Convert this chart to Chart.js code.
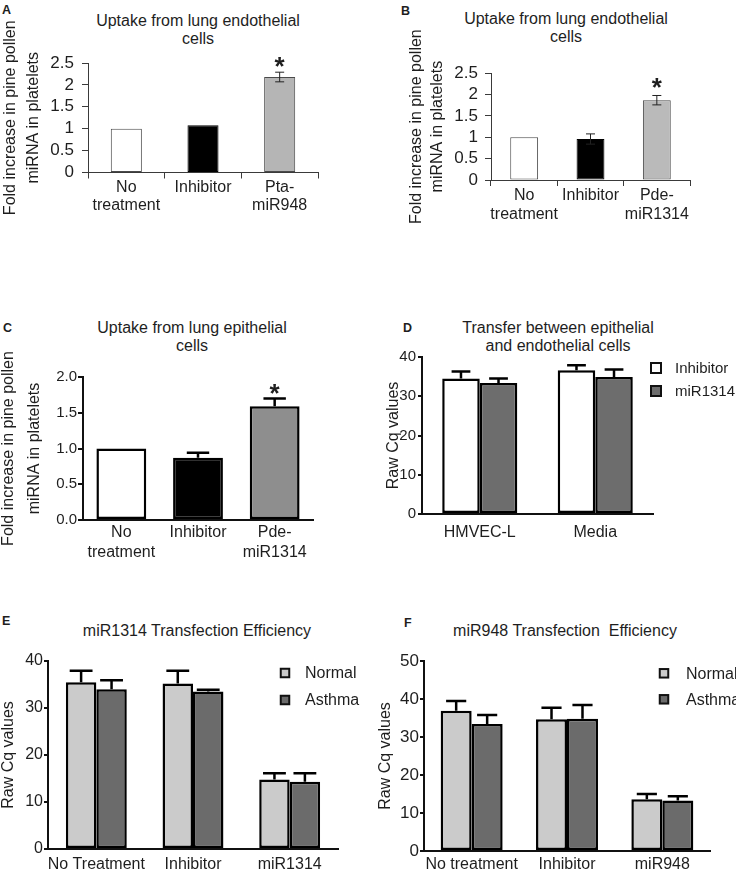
<!DOCTYPE html>
<html>
<head>
<meta charset="utf-8">
<script src="https://cdn.jsdelivr.net/npm/chart.js@4.4.1/dist/chart.umd.min.js"></script>
<style>
  html, body { margin: 0; padding: 0; background: #fff; }
  body { width: 736px; height: 873px; position: relative; overflow: hidden;
         font-family: "Liberation Sans", Arial, sans-serif; color: #1e1e1e; }
  canvas { position: absolute; }
  .letter { position: absolute; font-weight: bold; font-size: 12.5px; line-height: 14px; }
  .title { position: absolute; width: 300px; text-align: center; font-size: 16px; line-height: 18px; white-space: pre; }
</style>
</head>
<body>
<div class="letter" style="left:2px;top:3px">A</div>
<div class="letter" style="left:401px;top:4px">B</div>
<div class="letter" style="left:3px;top:321px">C</div>
<div class="letter" style="left:403px;top:321px">D</div>
<div class="letter" style="left:2px;top:614px">E</div>
<div class="letter" style="left:404px;top:616px">F</div>

<div class="title" style="left:48px;top:12px">Uptake from lung endothelial
cells</div>
<div class="title" style="left:416px;top:10px">Uptake from lung endothelial
cells</div>
<div class="title" style="left:42px;top:319px">Uptake from lung epithelial
cells</div>
<div class="title" style="left:408px;top:319px">Transfer between epithelial
and endothelial cells</div>
<div class="title" style="left:47px;top:622px">miR1314 Transfection Efficiency</div>
<div class="title" style="left:415px;top:622px">miR948 Transfection  Efficiency</div>

<script>
// ---- data ----
// A
const labelsA = [['No', 'treatment'], 'Inhibitor', ['Pta-', 'miR948']];
const valuesA = [1.0, 1.08, 2.18];
const errorsA = [0, 0, 0.11];
const starsA = ['', '', '*'];
const yTicksA = [0, 0.5, 1, 1.5, 2, 2.5];
// B
const labelsB = [['No', 'treatment'], 'Inhibitor', ['Pde-', 'miR1314']];
const valuesB = [1.0, 0.96, 1.87];
const errorsB = [0, 0.12, 0.11];
const starsB = ['', '', '*'];
const yTicksB = [0, 0.5, 1, 1.5, 2, 2.5];
// C
const labelsC = [['No', 'treatment'], 'Inhibitor', ['Pde-', 'miR1314']];
const valuesC = [1.0, 0.87, 1.59];
const errorsC = [0, 0.07, 0.11];
const starsC = ['', '', '*'];
const yTicksC = [0, 0.5, 1.0, 1.5, 2.0];
// D
const groupsD = ['HMVEC-L', 'Media'];
const inhibitorD = [34.5, 36.6];
const inhibitorErrD = [1.8, 1.3];
const mirD = [33.4, 34.9];
const mirErrD = [1.1, 1.9];
const yTicksD = [0, 10, 20, 30, 40];
// E
const groupsE = ['No Treatment', 'Inhibitor', 'miR1314'];
const normalE = [35.5, 35.2, 14.8];
const normalErrE = [2.4, 2.7, 1.3];
const asthmaE = [34.0, 33.5, 14.3];
const asthmaErrE = [1.9, 0.4, 1.8];
const yTicksE = [0, 10, 20, 30, 40];
// F
const groupsF = ['No treatment', 'Inhibitor', 'miR948'];
const normalF = [36.9, 34.7, 13.6];
const normalErrF = [2.6, 3.0, 1.4];
const asthmaF = [33.4, 34.8, 13.3];
const asthmaErrF = [2.4, 3.6, 1.1];
const yTicksF = [0, 10, 20, 30, 40, 50];

const FONT = '"Liberation Sans", Arial, sans-serif';
const INK = '#1e1e1e';

// error bars (and significance stars) from dataset.errors / dataset.stars
const errorBars = {
  id: 'errorBars',
  afterDatasetsDraw(chart, args, opts) {
    const ctx = chart.ctx;
    const y = chart.scales.y;
    ctx.save();
    ctx.strokeStyle = opts.color;
    ctx.lineWidth = opts.lineWidth;
    chart.data.datasets.forEach((ds, di) => {
      const meta = chart.getDatasetMeta(di);
      meta.data.forEach((bar, i) => {
        const v = ds.data[i];
        const err = ds.errors ? ds.errors[i] : 0;
        const top = y.getPixelForValue(v + err);
        if (err) {
          const bottom = opts.both ? y.getPixelForValue(v - err) : bar.y;
          const half = opts.cap ? opts.cap / 2 : bar.width * opts.capRatio / 2;
          ctx.beginPath();
          ctx.moveTo(bar.x, bottom);
          ctx.lineTo(bar.x, top);
          ctx.moveTo(bar.x - half, top);
          ctx.lineTo(bar.x + half, top);
          if (opts.both) {
            ctx.moveTo(bar.x - half, bottom);
            ctx.lineTo(bar.x + half, bottom);
          }
          ctx.stroke();
        }
        if (ds.stars && ds.stars[i]) {
          ctx.fillStyle = INK;
          ctx.font = 'bold ' + opts.starSize + 'px ' + FONT;
          ctx.textAlign = 'center';
          ctx.textBaseline = 'alphabetic';
          ctx.fillText(ds.stars[i], bar.x, top - opts.starGap + opts.starSize * 0.58);
        }
      });
    });
    ctx.restore();
  }
};

// GraphPad style legend with square markers
const boxLegend = {
  id: 'boxLegend',
  afterDraw(chart, args, opts) {
    if (!opts.display) return;
    const ctx = chart.ctx;
    ctx.save();
    ctx.font = opts.fontSize + 'px ' + FONT;
    ctx.textBaseline = 'middle';
    ctx.textAlign = 'left';
    chart.data.datasets.forEach((ds, i) => {
      const cy = opts.y + i * opts.gap;
      const s = opts.size;
      ctx.fillStyle = ds.backgroundColor;
      ctx.fillRect(opts.x - s / 2, cy - s / 2, s, s);
      ctx.lineWidth = 2;
      ctx.strokeStyle = '#111';
      ctx.strokeRect(opts.x - s / 2, cy - s / 2, s, s);
      ctx.fillStyle = INK;
      ctx.fillText(ds.label, opts.textX, cy + 1);
    });
    ctx.restore();
  }
};

function panel(p) {
  const [bx, by, bw, bh] = p.box;
  const [al, at, ar, ab] = p.area;
  const c = document.createElement('canvas');
  c.width = bw; c.height = bh;
  c.style.left = bx + 'px'; c.style.top = by + 'px';
  document.body.appendChild(c);
  const axisColor = p.thin ? '#3a3a3a' : '#111';
  const axisWidth = p.thin ? 1 : 2;
  return new Chart(c, {
    type: 'bar',
    data: { labels: p.labels, datasets: p.datasets },
    plugins: [errorBars, boxLegend],
    options: {
      responsive: false,
      animation: false,
      devicePixelRatio: 1,
      layout: { padding: { left: 0, top: at - by, right: bx + bw - ar, bottom: 0 } },
      plugins: {
        legend: { display: false },
        tooltip: { enabled: false },
        errorBars: p.err,
        boxLegend: p.legend || { display: false }
      },
      scales: {
        x: {
          afterFit: s => { s.height = by + bh - ab; },
          grid: { display: p.thin, drawOnChartArea: false, drawTicks: p.thin, tickLength: 6,
                  color: axisColor, lineWidth: 1, offset: true },
          border: { display: true, color: axisColor, width: axisWidth },
          ticks: { color: INK, font: { family: FONT, size: 16, lineHeight: p.xLH },
                   padding: p.xPad, maxRotation: 0, autoSkip: false }
        },
        y: {
          min: p.yTicks[0],
          max: p.yTicks[p.yTicks.length - 1],
          afterFit: s => { s.width = al - bx; },
          afterBuildTicks: s => { s.ticks = p.yTicks.map(v => ({ value: v })); },
          grid: { display: true, drawOnChartArea: false, drawTicks: true, tickLength: p.yTickLen,
                  color: axisColor, lineWidth: axisWidth },
          border: { display: true, color: axisColor, width: axisWidth },
          ticks: { color: INK, font: { family: FONT, size: p.yTickSize }, padding: p.yPad,
                   autoSkip: false, callback: p.yFmt || (v => String(v)) },
          title: { display: true, text: p.yTitle, color: INK,
                   font: { family: FONT, size: 16, lineHeight: p.yTitleLH },
                   padding: { top: p.yTitlePad, bottom: 0 } }
        }
      }
    }
  });
}

const foldTitle = ['Fold increase in pine pollen', 'miRNA in platelets'];

panel({
  box: [0, 0, 368, 230], area: [88, 63, 318, 172.5], thin: true,
  labels: labelsA,
  datasets: [{ data: valuesA, errors: errorsA, stars: starsA,
    backgroundColor: ['#ffffff', '#000000', '#b5b5b5'], borderColor: ['#4a4a4a', '#000000', '#4a4a4a'],
    borderWidth: 1, borderSkipped: false, barPercentage: 0.405, categoryPercentage: 1 }],
  err: { both: true, cap: 9, lineWidth: 1, color: '#222', starSize: 26, starGap: 12 },
  yTicks: yTicksA, yTickSize: 17, yTickLen: 6, yPad: 8,
  yTitle: foldTitle, yTitleLH: 1.45, yTitlePad: -1.5,
  xLH: 1.12, xPad: 0.5
});

panel({
  box: [368, 0, 368, 230], area: [491, 73.3, 690, 180], thin: true,
  labels: labelsB,
  datasets: [{ data: valuesB, errors: errorsB, stars: starsB,
    backgroundColor: ['#ffffff', '#000000', '#bababa'], borderColor: ['#4a4a4a', '#000000', '#4a4a4a'],
    borderWidth: 1, borderSkipped: false, barPercentage: 0.42, categoryPercentage: 1 }],
  err: { both: true, cap: 9, lineWidth: 1, color: '#222', starSize: 26, starGap: 15 },
  yTicks: yTicksB, yTickSize: 17, yTickLen: 6, yPad: 7,
  yTitle: foldTitle, yTitleLH: 1.3, yTitlePad: 38.6,
  xLH: 1.18, xPad: 0
});

panel({
  box: [0, 230, 368, 340], area: [83, 377, 313, 520], thin: false,
  labels: labelsC,
  datasets: [{ data: valuesC, errors: errorsC, stars: starsC,
    backgroundColor: ['#ffffff', '#000000', '#8e8e8e'], borderColor: '#000000',
    borderWidth: 2.5, borderSkipped: false, barPercentage: 0.65, categoryPercentage: 1 }],
  err: { both: false, capRatio: 0.45, lineWidth: 2.5, color: '#000', starSize: 26, starGap: 11.5 },
  yTicks: yTicksC, yTickSize: 15, yTickLen: 5, yPad: 1, yFmt: v => v.toFixed(1),
  yTitle: foldTitle, yTitleLH: 1.6, yTitlePad: -4,
  xLH: 1.25, xPad: 3
});

panel({
  box: [368, 230, 368, 340], area: [422, 357, 653, 514], thin: false,
  labels: groupsD,
  datasets: [
    { label: 'Inhibitor', data: inhibitorD, errors: inhibitorErrD, backgroundColor: '#ffffff',
      borderColor: '#000', borderWidth: 2.5, borderSkipped: false, barPercentage: 1, categoryPercentage: 0.65 },
    { label: 'miR1314', data: mirD, errors: mirErrD, backgroundColor: '#6d6d6d',
      borderColor: '#000', borderWidth: 2.5, borderSkipped: false, barPercentage: 1, categoryPercentage: 0.65 }
  ],
  err: { both: false, capRatio: 0.5, lineWidth: 2.5, color: '#000' },
  legend: { display: true, x: 288, y: 138, gap: 23, size: 10, textX: 307, fontSize: 15 },
  yTicks: yTicksD, yTickSize: 15, yTickLen: 4, yPad: 2,
  yTitle: 'Raw Cq values', yTitleLH: 1.2, yTitlePad: 16.4,
  xLH: 1.2, xPad: 9.4
});

panel({
  box: [0, 570, 368, 303], area: [48, 661, 338, 849], thin: false,
  labels: groupsE,
  datasets: [
    { label: 'Normal', data: normalE, errors: normalErrE, backgroundColor: '#cbcbcb',
      borderColor: '#000', borderWidth: 2.5, borderSkipped: false, barPercentage: 1, categoryPercentage: 0.63 },
    { label: 'Asthma', data: asthmaE, errors: asthmaErrE, backgroundColor: '#6b6b6b',
      borderColor: '#000', borderWidth: 2.5, borderSkipped: false, barPercentage: 1, categoryPercentage: 0.63 }
  ],
  err: { both: false, capRatio: 0.75, lineWidth: 2.5, color: '#000' },
  legend: { display: true, x: 285, y: 103, gap: 27, size: 8.5, textX: 305, fontSize: 16 },
  yTicks: yTicksE, yTickSize: 16, yTickLen: 4, yPad: 1,
  yTitle: 'Raw Cq values', yTitleLH: 1.1, yTitlePad: 0,
  xLH: 1.2, xPad: 6.4
});

panel({
  box: [368, 570, 368, 303], area: [424, 661, 710, 851], thin: false,
  labels: groupsF,
  datasets: [
    { label: 'Normal', data: normalF, errors: normalErrF, backgroundColor: '#cbcbcb',
      borderColor: '#000', borderWidth: 2.5, borderSkipped: false, barPercentage: 1, categoryPercentage: 0.65 },
    { label: 'Asthma', data: asthmaF, errors: asthmaErrF, backgroundColor: '#6b6b6b',
      borderColor: '#000', borderWidth: 2.5, borderSkipped: false, barPercentage: 1, categoryPercentage: 0.65 }
  ],
  err: { both: false, capRatio: 0.65, lineWidth: 2.5, color: '#000' },
  legend: { display: true, x: 296, y: 103.3, gap: 26, size: 8.5, textX: 318, fontSize: 16 },
  yTicks: yTicksF, yTickSize: 17, yTickLen: 4, yPad: 1,
  yTitle: 'Raw Cq values', yTitleLH: 1.2, yTitlePad: 8.4,
  xLH: 1.2, xPad: 4.4
});
</script>
</body>
</html>
